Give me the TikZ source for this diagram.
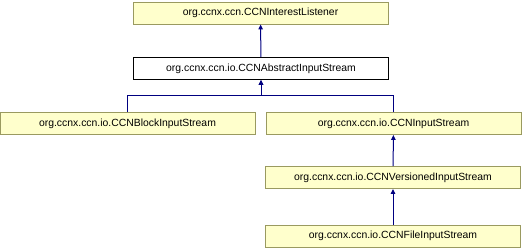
\documentclass[tikz,border=0pt]{standalone}
\usepackage{fontspec}
\setmainfont{Liberation Sans}
\usetikzlibrary{arrows.meta}

\definecolor{clsfill}{HTML}{FFFFCC}
\definecolor{clsline}{HTML}{9A9A60}
\definecolor{edgeblue}{HTML}{000080}

\begin{document}
\begin{tikzpicture}[x=1pt,y=-1pt,>={Triangle[length=5pt,width=4.5pt]},font=\fontsize{10.4}{12}\selectfont,
                    cls/.style={draw=clsline,fill=clsfill,line width=0.9pt,minimum width=255pt,minimum height=22pt,inner sep=0pt},
                    edge/.style={edgeblue,line width=1pt,->}]
  \useasboundingbox (0,0) rectangle (522,248);
  % interface at the top
  \node[cls] (listener) at (260.5,13) {org.ccnx.ccn.CCNInterestListener};
  % abstract base, plain box
  \node[cls,draw=black,fill=white] (abstract) at (261,68.5) {org.ccnx.ccn.io.CCNAbstractInputStream};
  % subclasses
  \node[cls] (block) at (127.5,123.5) {org.ccnx.ccn.io.CCNBlockInputStream};
  \node[cls] (input) at (393.5,123.5) {org.ccnx.ccn.io.CCNInputStream};
  \node[cls] (versioned) at (393,177.5) {org.ccnx.ccn.io.CCNVersionedInputStream};
  \node[cls] (file) at (393,236) {org.ccnx.ccn.io.CCNFileInputStream};
  \coordinate (fork) at (261,96);
  % inheritance edges
  \draw[edge] (abstract) -- (listener);
  \draw[edge] (block.north) |- (fork) -- (abstract.south);
  \draw[edge] (input.north) |- (fork) -- (abstract.south);
  \draw[edge] (versioned) -- (input);
  \draw[edge] (file) -- (versioned);
\end{tikzpicture}
\end{document}
